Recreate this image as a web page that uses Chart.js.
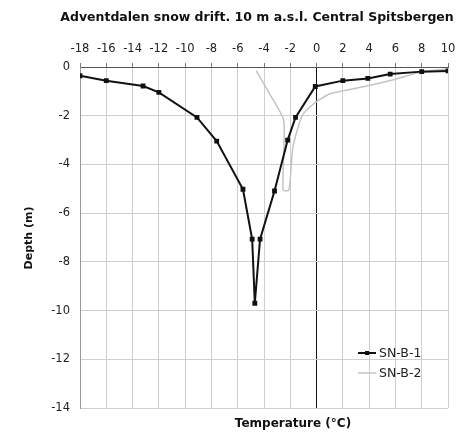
<!DOCTYPE html>
<html>
<head>
<meta charset="utf-8">
<script src="https://cdn.jsdelivr.net/npm/chart.js@4"></script>
<style>
  html, body { margin: 0; padding: 0; background: #fff; }
  #wrap { width: 456px; height: 432px; position: relative; }
</style>
</head>
<body>
<div id="wrap"><canvas id="profileChart"></canvas></div>
<script>
// Chart texts
const chartTitle = 'Adventdalen snow drift. 10 m a.s.l. Central Spitsbergen';
const xTitle = 'Temperature (\u00B0C)';
const yTitle = 'Depth (m)';

// Series SN-B-1 (temperature, depth)
const snb1Temp = [-18, -16, -13.2, -12, -9.1, -7.6, -5.6, -4.9, -4.7, -4.3, -3.2, -2.2, -1.6, -0.1, 2, 3.9, 5.6, 8, 10];
const snb1Depth = [-0.36, -0.56, -0.78, -1.04, -2.07, -3.04, -5.02, -7.07, -9.7, -7.07, -5.09, -3.0, -2.07, -0.8, -0.56, -0.47, -0.29, -0.19, -0.16];

// Series SN-B-2
const snb2Temp = [-4.6, -3.6, -2.5, -2.55, -2.1, -1.8, -1.1, -0.2, 1, 2, 3.8, 6, 8, 10];
const snb2Depth = [-0.15, -1.08, -2.2, -5.05, -5.05, -3.3, -2.0, -1.5, -1.1, -0.98, -0.78, -0.5, -0.2, -0.08];

// Axis ticks
const xMin = -18, xMax = 10, xStep = 2;
const yMin = -14, yMax = 0, yStep = 2;

function toPoints(xs, ys) {
    return xs.map((x, i) => ({ x: x, y: ys[i] }));
}

const FONT = '"DejaVu Sans", Verdana, sans-serif';

// Title, axis titles and legend drawn on the canvas
const textPlugin = {
    id: 'textPlugin',
    afterDraw(chart) {
        const ctx = chart.ctx;
        ctx.save();
        ctx.fillStyle = '#111';
        ctx.textAlign = 'center';
        ctx.textBaseline = 'middle';
        ctx.font = 'bold 12.5px ' + FONT;
        ctx.fillText(chartTitle, 257, 18);
        ctx.font = 'bold 12px ' + FONT;
        ctx.fillText(xTitle, 293, 424);
        ctx.save();
        ctx.translate(29, 238);
        ctx.rotate(-Math.PI / 2);
        ctx.font = 'bold 11px ' + FONT;
        ctx.fillText(yTitle, 0, 0);
        ctx.restore();

        // legend
        ctx.font = '12.5px ' + FONT;
        ctx.textAlign = 'left';
        chart.data.datasets.forEach((ds, i) => {
            const y = 353 + i * 20;
            ctx.strokeStyle = ds.borderColor;
            ctx.lineWidth = ds.borderWidth;
            ctx.beginPath();
            ctx.moveTo(358, y);
            ctx.lineTo(376, y);
            ctx.stroke();
            if (ds.pointRadius > 0) {
                ctx.fillStyle = ds.pointBackgroundColor;
                ctx.fillRect(365, y - 2, 4, 4);
            }
            ctx.fillStyle = '#222';
            ctx.fillText(ds.label, 379, y + 1);
        });
        ctx.restore();
    }
};

const ctx = document.getElementById('profileChart').getContext('2d');
const profileChart = new Chart(ctx, {
    type: 'scatter',
    data: {
        datasets: [
            {
                label: 'SN-B-1',
                data: toPoints(snb1Temp, snb1Depth),
                showLine: true,
                borderColor: '#111',
                borderWidth: 2,
                pointStyle: 'rect',
                pointRadius: 2,
                pointBackgroundColor: '#111',
                pointBorderColor: '#111',
                tension: 0
            },
            {
                label: 'SN-B-2',
                data: toPoints(snb2Temp, snb2Depth),
                showLine: true,
                borderColor: '#c4c4c4',
                borderWidth: 1.5,
                pointRadius: 0,
                pointBackgroundColor: '#c4c4c4',
                tension: 0.2
            }
        ]
    },
    options: {
        responsive: true,
        maintainAspectRatio: false,
        animation: false,
        layout: { padding: { left: 0, right: 8, top: 0, bottom: 24 } },
        plugins: {
            legend: { display: false },
            title: { display: false },
            tooltip: { enabled: false }
        },
        scales: {
            x: {
                type: 'linear',
                position: 'top',
                min: xMin,
                max: xMax,
                afterFit: s => {
                    s.height = 67;
                    s.paddingLeft = 0;
                    s.paddingRight = 8;
                },
                ticks: {
                    stepSize: xStep,
                    padding: 7,
                    color: '#222',
                    font: { family: FONT, size: 11.5 }
                },
                grid: {
                    color: c => c.tick && c.tick.value === 0 ? '#111' : '#cfcfcf',
                    lineWidth: 1,
                    tickLength: 4,
                    tickColor: '#777'
                },
                border: { color: '#555', width: 1 }
            },
            y: {
                type: 'linear',
                min: yMin,
                max: yMax,
                afterFit: s => { s.width = 80; },
                ticks: {
                    stepSize: yStep,
                    padding: 10,
                    color: '#222',
                    font: { family: FONT, size: 11.5 }
                },
                grid: {
                    color: '#cfcfcf',
                    lineWidth: 1,
                    drawTicks: false
                },
                border: { color: '#999', width: 1 }
            }
        }
    },
    plugins: [textPlugin]
});
</script>
</body>
</html>
